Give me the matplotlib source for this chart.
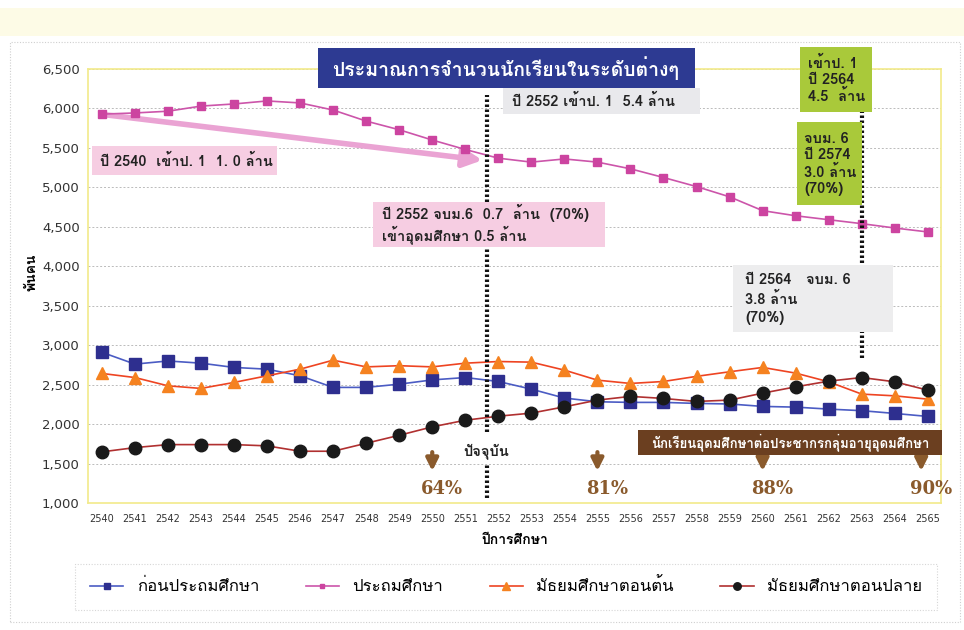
import numpy as np
import matplotlib
matplotlib.use('Agg')
import matplotlib.pyplot as plt
from matplotlib import font_manager
from matplotlib.ft2font import FT2Font
from matplotlib.patches import Rectangle

# data (thousand persons)
years = list(range(2540, 2566))
pre_primary = [2910, 2760, 2800, 2772, 2718, 2696, 2612, 2465, 2465, 2506, 2560, 2590, 2540,
               2443, 2330, 2283, 2275, 2275, 2262, 2255, 2224, 2215, 2190, 2170, 2135, 2097]
primary = [5928, 5943, 5965, 6030, 6057, 6095, 6070, 5980, 5840, 5730, 5600, 5480, 5370,
           5320, 5360, 5320, 5235, 5125, 5010, 4880, 4705, 4640, 4590, 4540, 4485, 4435]
lower_sec = [2642, 2590, 2485, 2452, 2528, 2612, 2696, 2810, 2725, 2740, 2725, 2772, 2793,
             2785, 2684, 2557, 2515, 2540, 2605, 2663, 2718, 2646, 2536, 2380, 2358, 2316]
upper_sec = [1648, 1702, 1740, 1740, 1740, 1724, 1656, 1656, 1757, 1858, 1965, 2049, 2100,
             2139, 2219, 2304, 2351, 2325, 2287, 2304, 2392, 2472, 2544, 2590, 2536, 2430]
series_names = ['ก่อนประถมศึกษา', 'ประถมศึกษา', 'มัธยมศึกษาตอนต้น', 'มัธยมศึกษาตอนปลาย']
ratio_years = [2550, 2555, 2560, 2564.8]
ratio_labels = ['64%', '81%', '88%', '90%']


def find_thai():
    seen = set()
    for f in font_manager.fontManager.ttflist:
        if f.fname in seen:
            continue
        seen.add(f.fname)
        try:
            if ord('ก') in FT2Font(f.fname).get_charmap():
                return f.name
        except Exception:
            pass
    return 'DejaVu Sans'


thai = find_thai()
plt.rcParams['font.family'] = [thai, 'DejaVu Sans']

W, H = 964, 630
fig = plt.figure(figsize=(W / 100, H / 100), dpi=100)


def fx(x):
    return x / W


def fy(y):
    return 1 - y / H


def box(x0, y0, x1, y1, color, z=5):
    fig.patches.append(Rectangle((fx(x0), fy(y1)), fx(x1 - x0), (y1 - y0) / H,
                                 transform=fig.transFigure, facecolor=color,
                                 edgecolor='none', zorder=z))


# background: cream band and dotted panel
box(0, 8, W, 36, '#fdfbe6', z=0)
fig.patches.append(Rectangle((fx(10), fy(622)), fx(W - 14), (622 - 42) / H,
                             transform=fig.transFigure, facecolor='none',
                             edgecolor='#cfcfcf', lw=0.8, ls=(0, (1, 1.5)), zorder=0))

ax = fig.add_axes([fx(88), fy(503), fx(941 - 88), (503 - 69) / H])
ax.set_xlim(2539.58, 2565.4)
ax.set_ylim(1000, 6500)
ax.set_yticks(np.arange(1000, 6501, 500))
ax.set_yticklabels([f'{v:,}' for v in range(1000, 6501, 500)], fontsize=9.5,
                   color='#333333', family='DejaVu Sans')
ax.set_xticks(years)
ax.set_xticklabels([str(y) for y in years], fontsize=7, color='#333333', family='DejaVu Sans')
ax.tick_params(length=0, pad=8)
ax.tick_params(axis='y', pad=6)
ax.grid(axis='y', color='#bbbbbb', ls=(0, (2, 2)), lw=0.7)
ax.set_axisbelow(True)
for s in ax.spines.values():
    s.set_color('#f2ea8a')
    s.set_linewidth(1.2)

ax.plot(years, pre_primary, color='#4b5cc4', lw=1.2, marker='s', ms=8,
        mfc='#2e2f8f', mec='#2e2f8f', label=series_names[0], zorder=4)
ax.plot(years, primary, color='#cc55aa', lw=1.2, marker='s', ms=6,
        mfc='#cc44a0', mec='#cc44a0', label=series_names[1], zorder=4)
ax.plot(years, lower_sec, color='#ee4422', lw=1.2, marker='^', ms=8.5,
        mfc='#f58220', mec='#f58220', label=series_names[2], zorder=4)
ax.plot(years, upper_sec, color='#b03030', lw=1.2, marker='o', ms=9,
        mfc='#1a1a1a', mec='#1a1a1a', label=series_names[3], zorder=4)

# pink trend arrow
ax.annotate('', xy=(2551.6, 5340), xytext=(2540, 5925),
            arrowprops=dict(arrowstyle='-|>', color='#eaa3d3', lw=4, mutation_scale=28),
            zorder=3)

# dotted reference lines
dot = dict(color='#111111', lw=3, ls=(0, (0.6, 0.6)), zorder=6)
ax.plot([2551.65, 2551.65], [1900, 6170], **dot)
ax.plot([2551.65, 2551.65], [1060, 1480], **dot)
ax.plot([2563, 2563], [2840, 5950], **dot)

ax.set_xlabel('ปีการศึกษา', fontsize=10, fontweight='bold', labelpad=8)
fig.text(fx(32), fy(272), 'พันคน', rotation=90, fontsize=10, fontweight='bold',
         ha='center', va='center')

# title box
box(318, 48, 695, 88, '#2d3a92', z=7)
fig.text(fx(506), fy(68), 'ประมาณการจำนวนนักเรียนในระดับต่างๆ', color='white',
         fontsize=14, fontweight='bold', ha='center', va='center', zorder=8)

# annotation boxes
tk = dict(fontsize=10.5, fontweight='bold', color='#222222', zorder=8)
box(503, 88, 700, 114, '#e9e9ec', z=7)
fig.text(fx(512), fy(101), 'ปี 2552 เข้าป. 1  5.4 ล้าน', va='center', **tk)

box(92, 146, 277, 175, '#f6cde2', z=7)
fig.text(fx(100), fy(161), 'ปี 2540  เข้าป. 1  1. 0 ล้าน', va='center', **tk)

box(373, 202, 605, 247, '#f6cde2', z=7)
fig.text(fx(382), fy(224), 'ปี 2552 จบม.6  0.7  ล้าน  (70%)\nเข้าอุดมศึกษา 0.5 ล้าน',
         va='center', linespacing=1.25, **tk)

box(800, 47, 872, 112, '#a9c93a', z=7)
fig.text(fx(808), fy(80), 'เข้าป. 1\nปี 2564\n4.5  ล้าน', va='center', linespacing=1.2, **tk)

box(797, 122, 862, 205, '#a9c93a', z=7)
fig.text(fx(804), fy(164), 'จบม. 6\nปี 2574\n3.0 ล้าน\n(70%)', va='center',
         linespacing=1.2, **tk)

box(733, 265, 893, 332, '#ededee', z=7)
fig.text(fx(745), fy(299), 'ปี 2564   จบม. 6\n3.8 ล้าน\n(70%)', va='center',
         linespacing=1.35, **tk)

fig.text(fx(486), fy(451), 'ปัจจุบัน', ha='center', va='center', **tk)

box(638, 430, 942, 455, '#6b3f20', z=7)
fig.text(fx(790), fy(442), 'นักเรียนอุดมศึกษาต่อประชากรกลุ่มอายุอุดมศึกษา', color='white',
         fontsize=9.5, fontweight='bold', ha='center', va='center', zorder=8)

# ratio arrows and labels
for yr, lab in zip(ratio_years, ratio_labels):
    ax.annotate('', xy=(yr, 1370), xytext=(yr, 1680),
                arrowprops=dict(arrowstyle='-|>', color='#8a5a2c', lw=3, mutation_scale=18),
                zorder=7)
    ax.text(yr + 0.3, 1180, lab, color='#8a5a2c', fontsize=13, fontweight='bold',
            ha='center', va='center', family='DejaVu Serif', zorder=7)

leg = fig.legend(loc='center', ncol=4, bbox_to_anchor=(fx(75), fy(612), fx(862), 50 / H),
                 mode='expand', fontsize=12, frameon=True, fancybox=False,
                 handlelength=2.0, borderaxespad=0, borderpad=0.9, markerscale=0.6)
leg.get_frame().set_edgecolor('#cccccc')
leg.get_frame().set_linestyle((0, (1, 1.5)))
leg.get_frame().set_linewidth(0.8)

fig.savefig('out.png', dpi=100)
